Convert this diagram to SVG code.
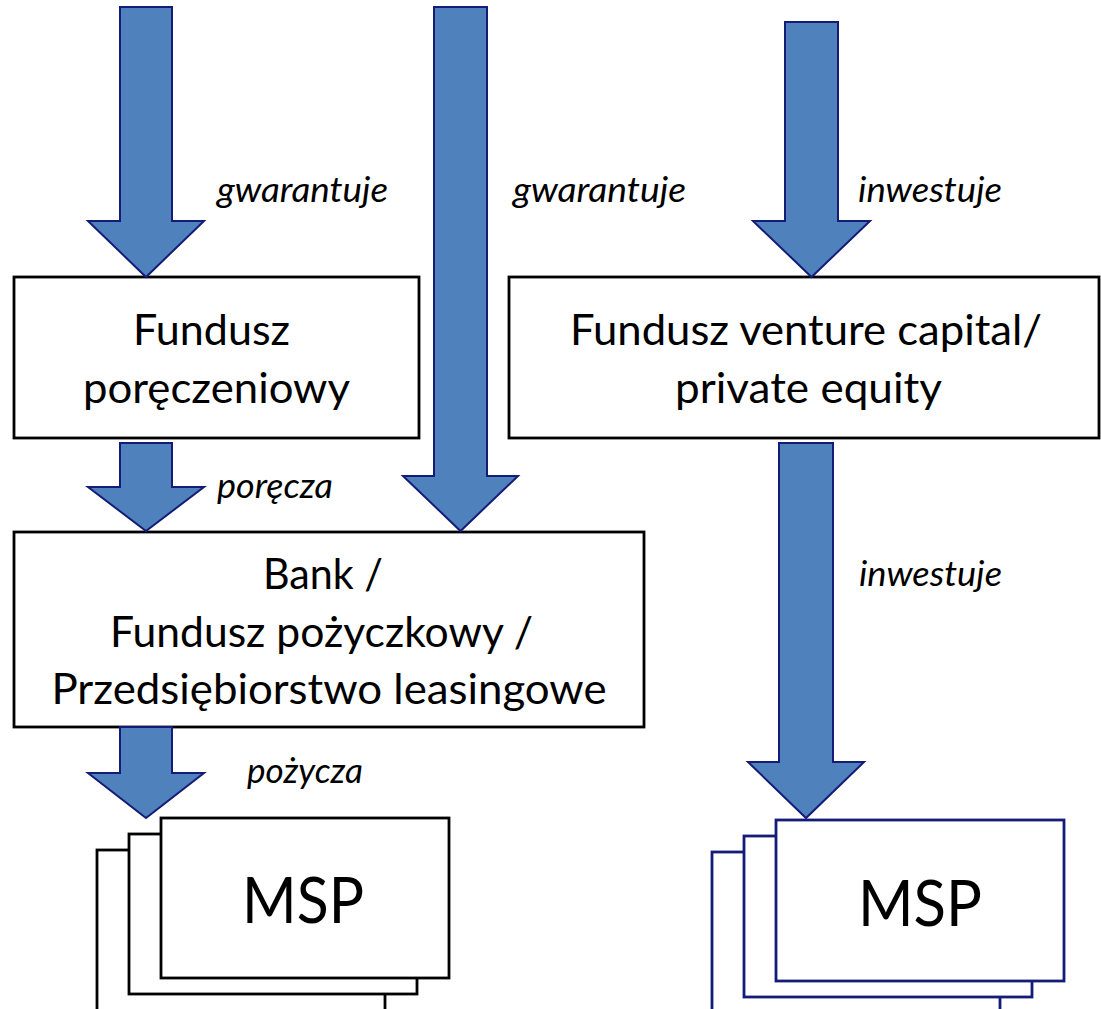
<svg xmlns="http://www.w3.org/2000/svg" width="1101" height="1009" viewBox="0 0 1101 1009">
<style>
.box{fill:#fff;stroke:#000;stroke-width:2.8}
.msp{fill:#fff;stroke:#000;stroke-width:2.8}
.msp2{fill:#fff;stroke:#141c78;stroke-width:2.8}
.arr{fill:#4f81bd;stroke:#141c78;stroke-width:2}
.t{font-family:Lato,"Open Sans","Liberation Sans",sans-serif;font-size:43px;fill:#000;text-anchor:middle}
.big{font-family:Lato,"Open Sans","Liberation Sans",sans-serif;font-size:64px;fill:#000;text-anchor:middle}
.lbl{font-family:Lato,"Open Sans","Liberation Sans",sans-serif;font-size:35px;font-style:italic;fill:#000}
</style>
<rect width="1101" height="1009" fill="#fff"/>
<g id="fundusz-poreczeniowy">
<rect class="box" x="14" y="277" width="405" height="161"/>
<text class="t" x="211.5" y="345" textLength="157" lengthAdjust="spacingAndGlyphs">Fundusz</text>
<text class="t" x="216.5" y="403" textLength="267" lengthAdjust="spacingAndGlyphs">poręczeniowy</text>
</g>
<g id="fundusz-vc">
<rect class="box" x="509" y="277" width="590" height="161"/>
<text class="t" x="806" y="345" textLength="472" lengthAdjust="spacingAndGlyphs">Fundusz venture capital/</text>
<text class="t" x="808.5" y="403" textLength="267" lengthAdjust="spacingAndGlyphs">private equity</text>
</g>
<g id="bank">
<rect class="box" x="14" y="532" width="630" height="195"/>
<text class="t" x="323" y="589" textLength="120" lengthAdjust="spacingAndGlyphs">Bank /</text>
<text class="t" x="321.5" y="647" textLength="423" lengthAdjust="spacingAndGlyphs">Fundusz pożyczkowy /</text>
<text class="t" x="329" y="704" textLength="555" lengthAdjust="spacingAndGlyphs">Przedsiębiorstwo leasingowe</text>
</g>
<g id="msp-left">
<rect class="msp" x="97" y="850" width="288" height="170"/>
<rect class="msp" x="129" y="834" width="288" height="160"/>
<rect class="msp" x="161" y="818" width="288" height="160"/>
<text class="big" x="303" y="923" textLength="122" lengthAdjust="spacingAndGlyphs">MSP</text>
</g>
<g id="msp-right">
<rect class="msp2" x="712" y="852" width="288" height="170"/>
<rect class="msp2" x="744" y="836" width="288" height="161"/>
<rect class="msp2" x="776" y="820" width="288" height="161"/>
<text class="big" x="920" y="926" textLength="124" lengthAdjust="spacingAndGlyphs">MSP</text>
</g>
<g id="connectors">
<polygon class="arr" points="120,7 172,7 172,221 204,221 146,277 88,221 120,221"/>
<polygon class="arr" points="434,7 487,7 487,476 518,476 460.5,531 403,476 434,476"/>
<polygon class="arr" points="120,443 172,443 172,487 204,487 146,531 88,487 120,487"/>
<polygon class="arr" points="120,727 172,727 172,773 204,773 146,818 88,773 120,773"/>
<polygon class="arr" points="785,22 838,22 838,221 870,221 811.5,277 753,221 785,221"/>
<polygon class="arr" points="779,443 833,443 833,762 864,762 806,818 748,762 779,762"/>
<text class="lbl" x="217" y="202" textLength="171" lengthAdjust="spacingAndGlyphs">gwarantuje</text>
<text class="lbl" x="513" y="202" textLength="173" lengthAdjust="spacingAndGlyphs">gwarantuje</text>
<text class="lbl" x="858" y="202" textLength="144" lengthAdjust="spacingAndGlyphs">inwestuje</text>
<text class="lbl" x="217" y="498" textLength="116" lengthAdjust="spacingAndGlyphs">poręcza</text>
<text class="lbl" x="859" y="586" textLength="143" lengthAdjust="spacingAndGlyphs">inwestuje</text>
<text class="lbl" x="247" y="783" textLength="116" lengthAdjust="spacingAndGlyphs">pożycza</text>
</g>
</svg>
